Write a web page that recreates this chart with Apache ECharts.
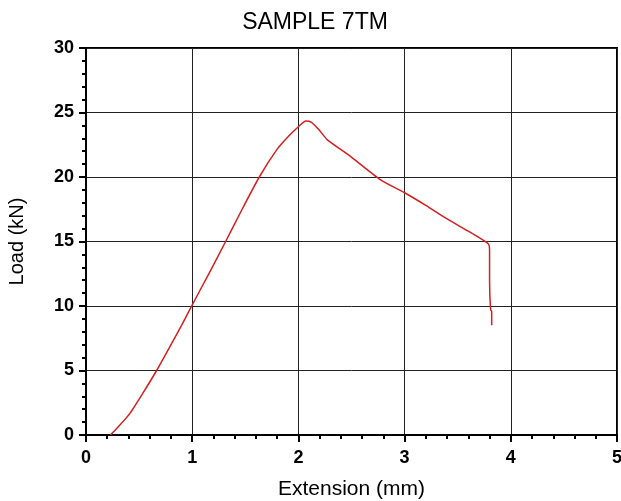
<!DOCTYPE html>
<html>
<head>
<meta charset="utf-8">
<script src="https://cdn.jsdelivr.net/npm/echarts@6/dist/echarts.min.js"></script>
<style>
  html, body { margin: 0; padding: 0; background: #fff; }
  #chart { width: 621px; height: 501px; }
</style>
</head>
<body>
<div id="chart"></div>
<script>
// extension (mm) and load (kN)
var extension = [0.23, 0.30, 0.414, 0.54, 0.665, 0.807, 0.90, 0.995, 1.15, 1.315, 1.47, 1.632, 1.795, 1.90, 2.00, 2.07, 2.12, 2.20, 2.27, 2.49, 2.77, 3.00, 3.20, 3.40, 3.60, 3.74, 3.79, 3.80, 3.80, 3.81, 3.82, 3.82];
var load      = [0, 0.6, 1.68, 3.3, 5.0, 7.1, 8.5, 10.0, 12.4, 15.0, 17.5, 20.0, 22.1, 23.1, 23.9, 24.34, 24.25, 23.6, 22.9, 21.6, 19.8, 18.78, 17.8, 16.75, 15.8, 15.1, 14.8, 14.4, 12.0, 9.7, 9.6, 8.5];
var xTicks = [0, 1, 2, 3, 4, 5];
var yTicks = [0, 5, 10, 15, 20, 25, 30];

var points = [];
for (var i = 0; i < extension.length; i++) {
    points.push([extension[i], load[i]]);
}

var font = '"Liberation Sans", Arial, sans-serif';
var chart = echarts.init(document.getElementById('chart'));
var option = {
    animation: false,
    title: {
        text: 'SAMPLE 7TM',
        left: 310,
        textAlign: 'center',
        top: 6,
        textStyle: { fontFamily: font, fontSize: 23, fontWeight: 'normal', color: '#000' }
    },
    grid: {
        left: 86,
        right: 4,
        top: 48,
        bottom: 66,
        outerBoundsMode: 'none',
        containLabel: false,
        show: true,
        borderColor: '#000',
        borderWidth: 2
    },
    xAxis: {
        type: 'value',
        min: xTicks[0],
        max: xTicks[xTicks.length - 1],
        interval: 1,
        name: 'Extension (mm)',
        nameLocation: 'middle',
        nameGap: 44,
        nameTextStyle: { fontFamily: font, fontSize: 21, color: '#000' },
        axisLine: { lineStyle: { color: '#000', width: 2 } },
        axisTick: { show: true, inside: false, length: 7, lineStyle: { color: '#000', width: 2 } },
        minorTick: { show: true, splitNumber: 5, length: 4, lineStyle: { color: '#000', width: 2 } },
        axisLabel: { fontFamily: font, fontSize: 18, fontWeight: 'bold', color: '#000', margin: 14 },
        splitLine: { show: true, lineStyle: { color: '#222', width: 1 } }
    },
    yAxis: {
        type: 'value',
        min: yTicks[0],
        max: yTicks[yTicks.length - 1],
        interval: 5,
        name: 'Load (kN)',
        nameLocation: 'middle',
        nameGap: 59,
        nameTextStyle: { fontFamily: font, fontSize: 20, color: '#000' },
        axisLine: { show: true, lineStyle: { color: '#000', width: 2 } },
        axisTick: { show: true, inside: false, length: 7, lineStyle: { color: '#000', width: 2 } },
        minorTick: { show: true, splitNumber: 5, length: 4, lineStyle: { color: '#000', width: 2 } },
        axisLabel: { fontFamily: font, fontSize: 18, fontWeight: 'bold', color: '#000', margin: 12 },
        splitLine: { show: true, lineStyle: { color: '#222', width: 1 } }
    },
    series: [{
        type: 'line',
        data: points,
        showSymbol: false,
        smooth: 0.2,
        lineStyle: { color: '#d42020', width: 1.5 }
    }]
};
chart.setOption(option, true);
</script>
</body>
</html>
